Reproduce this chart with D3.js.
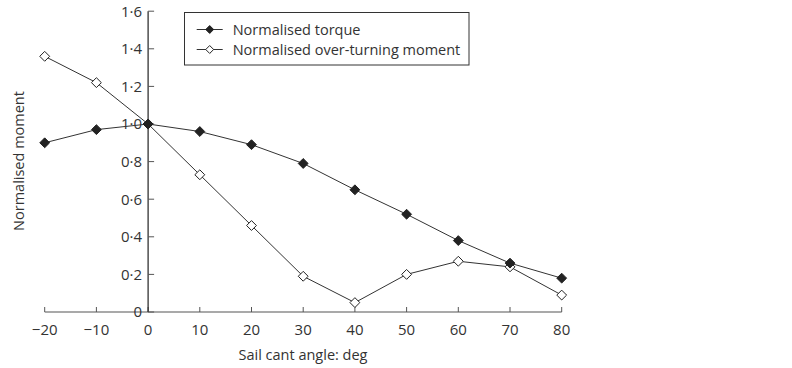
<!DOCTYPE html>
<html><head><meta charset="utf-8">
<script src="https://cdn.jsdelivr.net/npm/d3@7"></script>
<style>body{margin:0;background:#fff;} text{font-family:"Open Sans","Noto Sans",sans-serif;fill:#333;}</style>
</head><body><svg id="c" width="792" height="368"></svg>
<script>
const angles = [-20,-10,0,10,20,30,40,50,60,70,80];
const torque = [0.90,0.97,1.00,0.96,0.89,0.79,0.65,0.52,0.38,0.26,0.18];
const overturning = [1.36,1.22,1.00,0.73,0.46,0.19,0.05,0.20,0.27,0.24,0.09];
const xTicks = [-20,-10,0,10,20,30,40,50,60,70,80];
const yTicks = [0,0.2,0.4,0.6,0.8,1.0,1.2,1.4,1.6];
const seriesNames = ["Normalised torque","Normalised over-turning moment"];

const svg = d3.select("#c");
const x = d3.scaleLinear().domain([-20,80]).range([44.7,561.7]);
const y = d3.scaleLinear().domain([0,1.6]).range([312,11.2]);
const fmtY = d => d===0 ? "0" : d.toFixed(1).replace(".","\u00b7");
const fmtX = d => d<0 ? "\u2212"+Math.abs(d) : String(d);

const gx = svg.append("g");
gx.append("line").attr("x1",x(-20)).attr("x2",x(80)).attr("y1",y(0)).attr("y2",y(0)).attr("stroke","#555").attr("stroke-width",1.2);
xTicks.forEach(t=>{
  gx.append("line").attr("x1",x(t)).attr("x2",x(t)).attr("y1",y(0)).attr("y2",y(0)-5).attr("stroke","#555").attr("stroke-width",1);
  gx.append("text").attr("x",x(t)).attr("y",y(0)+23).attr("text-anchor","middle").attr("font-size",15).text(fmtX(t));
});
const gy = svg.append("g");
gy.append("line").attr("x1",x(0)).attr("x2",x(0)).attr("y1",y(0)).attr("y2",y(1.6)).attr("stroke","#222").attr("stroke-width",1.2);
yTicks.forEach(t=>{
  gy.append("line").attr("x1",x(0)).attr("x2",x(0)+6).attr("y1",y(t)).attr("y2",y(t)).attr("stroke","#555").attr("stroke-width",1);
  gy.append("text").attr("x",x(0)-6).attr("y",y(t)).attr("dy","0.36em").attr("text-anchor","end").attr("font-size",15).text(fmtY(t));
});
svg.append("text").attr("x",303).attr("y",360).attr("text-anchor","middle").attr("font-size",14.5).text("Sail cant angle: deg");
svg.append("text").attr("transform","translate(24,161) rotate(-90)").attr("text-anchor","middle").attr("font-size",14.5).text("Normalised moment");

const line = d3.line().x((d,i)=>x(angles[i])).y(d=>y(d));
const diamond = d3.symbol().type(d3.symbolDiamond2).size(62);

function drawSeries(vals, fill){
  svg.append("path").datum(vals).attr("d",line).attr("fill","none").attr("stroke","#333").attr("stroke-width",1);
  svg.append("g").selectAll("path").data(vals).join("path")
    .attr("d",diamond).attr("transform",(d,i)=>`translate(${x(angles[i])},${y(d)})`)
    .attr("fill",fill).attr("stroke","#222").attr("stroke-width",1);
}
drawSeries(overturning,"#fff");
drawSeries(torque,"#222");

const lg = svg.append("g");
lg.append("rect").attr("x",184.5).attr("y",12.5).attr("width",284.5).attr("height",52.5).attr("fill","#fff").attr("stroke","#333").attr("stroke-width",1);
[[torque,"#222",29.5],[overturning,"#fff",49.5]].forEach((s,k)=>{
  lg.append("line").attr("x1",196.7).attr("x2",222.7).attr("y1",s[2]).attr("y2",s[2]).attr("stroke","#333");
  lg.append("path").attr("d",d3.symbol().type(d3.symbolDiamond2).size(40)).attr("transform",`translate(209.7,${s[2]})`).attr("fill",s[1]).attr("stroke","#222");
  lg.append("text").attr("x",232.7).attr("y",s[2]).attr("dy","0.36em").attr("font-size",14.5).text(seriesNames[k]);
});
</script></body></html>
